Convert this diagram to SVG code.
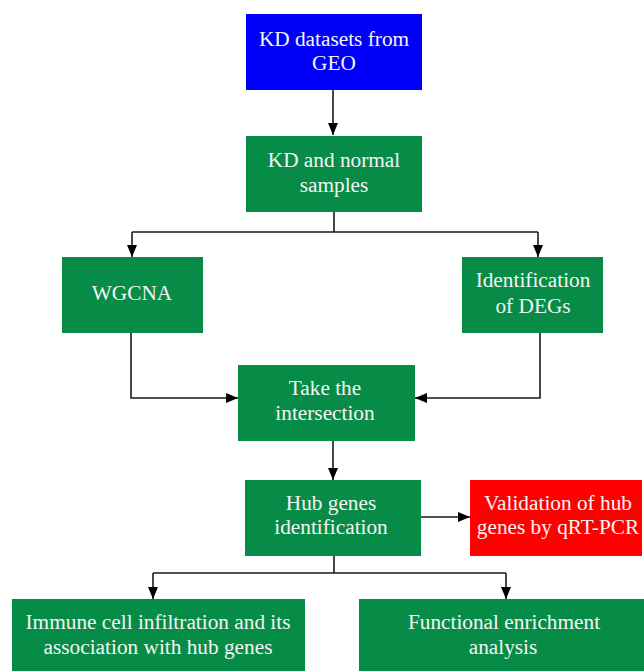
<svg xmlns="http://www.w3.org/2000/svg" width="644" height="671" viewBox="0 0 644 671">
<defs>
<style>
.box{stroke:none}
.g{fill:#078c47}
.t{font-family:"Liberation Serif","Times New Roman","DejaVu Serif",serif;font-size:21.3px;fill:#f4f4f4;text-anchor:middle}
.c{fill:none;stroke:#1a1a1a;stroke-width:1.6}
</style>
<marker id="ah" viewBox="0 0 12 10" refX="12" refY="5" markerWidth="12" markerHeight="11" markerUnits="userSpaceOnUse" orient="auto">
<path d="M0,0 L12,5 L0,10 z" fill="#000"/>
</marker>
</defs>
<rect width="644" height="671" fill="#fff"/>
<g id="connectors">
<path class="c" d="M333,90 V135" marker-end="url(#ah)"/>
<path class="c" d="M334,212 V232 M132,232 H538"/>
<path class="c" d="M132,232 V257" marker-end="url(#ah)"/>
<path class="c" d="M538,232 V257" marker-end="url(#ah)"/>
<path class="c" d="M131,333 V398 H238" marker-end="url(#ah)"/>
<path class="c" d="M540,333 V398 H415" marker-end="url(#ah)"/>
<path class="c" d="M333,441 V480" marker-end="url(#ah)"/>
<path class="c" d="M421,517 H470" marker-end="url(#ah)"/>
<path class="c" d="M334,556 V573 M153,573 H506"/>
<path class="c" d="M153,573 V599" marker-end="url(#ah)"/>
<path class="c" d="M506,573 V599" marker-end="url(#ah)"/>
</g>
<g id="geo">
<rect class="box" x="246" y="14" width="176" height="76" fill="#0000f8"/>
<text class="t" x="334" y="46">KD datasets from</text>
<text class="t" x="334" y="70">GEO</text>
</g>
<g id="samples">
<rect class="box g" x="246" y="136" width="176" height="76"/>
<text class="t" x="334" y="167">KD and normal</text>
<text class="t" x="334" y="192">samples</text>
</g>
<g id="wgcna">
<rect class="box g" x="62" y="257" width="141" height="76"/>
<text class="t" x="132" y="300">WGCNA</text>
</g>
<g id="degs">
<rect class="box g" x="462" y="257" width="141" height="76"/>
<text class="t" x="533" y="287">Identification</text>
<text class="t" x="533" y="313">of DEGs</text>
</g>
<g id="intersection">
<rect class="box g" x="238" y="365" width="177" height="76"/>
<text class="t" x="325" y="395">Take the</text>
<text class="t" x="325" y="420">intersection</text>
</g>
<g id="hub">
<rect class="box g" x="245" y="480" width="176" height="76"/>
<text class="t" x="331" y="510">Hub genes</text>
<text class="t" x="331" y="534">identification</text>
</g>
<g id="validation">
<rect class="box" x="470" y="480" width="172" height="76" fill="#ff0000"/>
<text class="t" x="558" y="510">Validation of hub</text>
<text class="t" x="558" y="534">genes by qRT-PCR</text>
</g>
<g id="immune">
<rect class="box g" x="12" y="599" width="293" height="72"/>
<text class="t" x="158" y="629">Immune cell infiltration and its</text>
<text class="t" x="158" y="654">association with hub genes</text>
</g>
<g id="functional">
<rect class="box g" x="359" y="599" width="285" height="72"/>
<text class="t" x="504" y="629">Functional enrichment</text>
<text class="t" x="503" y="654">analysis</text>
</g>
</svg>
